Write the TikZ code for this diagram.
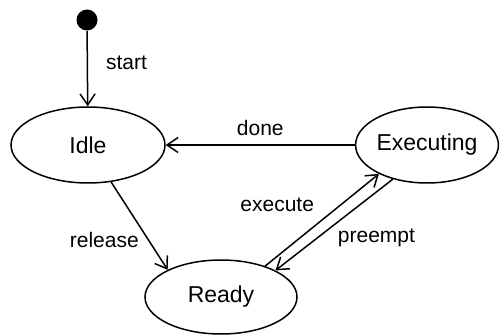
\documentclass[tikz,border=0pt]{standalone}
\usepackage{fontspec}
\setmainfont{Liberation Sans}
\usetikzlibrary{shapes.geometric,arrows.meta}

\begin{document}
\begin{tikzpicture}[x=1pt,y=-1pt,line width=1.5pt,
    state/.style={shape=ellipse,draw=black,inner sep=0pt,minimum height=76pt,font=\fontsize{23}{27}\selectfont},
    lbl/.style={font=\fontsize{21}{25}\selectfont,inner sep=3pt},
    >={Straight Barb[length=11pt,width=15pt,line width=1.5pt]}]
                \useasboundingbox (0,0) rectangle (502,336);
                \node[shape=circle,fill=black,inner sep=0pt,minimum size=21pt] (init) at (87,20) {};
                \node[state,minimum width=154pt] (idle) at (88,145) {Idle};
                \node[state,minimum width=142pt] (exec) at (427,145) {Executing};
                \node[state,minimum width=152pt,minimum height=74pt] (ready) at (221,297) {Ready};

                \path [->] (init) edge node[lbl,pos=0.42,right=15pt] {start} (idle);
                \path [->] (exec) edge node[lbl,above=6pt] {done} (idle);
                \path [->] (idle.302) edge node[lbl,pos=0.66,left=6pt] {release} (ready.153);
                \path [->] (ready.35) edge node[lbl,pos=0.55,anchor=south east,xshift=-10pt] {execute} (exec.211);
                \path [->] (exec.225) edge node[lbl,pos=0.5,anchor=north west] {preempt} (ready.26);
            \end{tikzpicture}
\end{document}
